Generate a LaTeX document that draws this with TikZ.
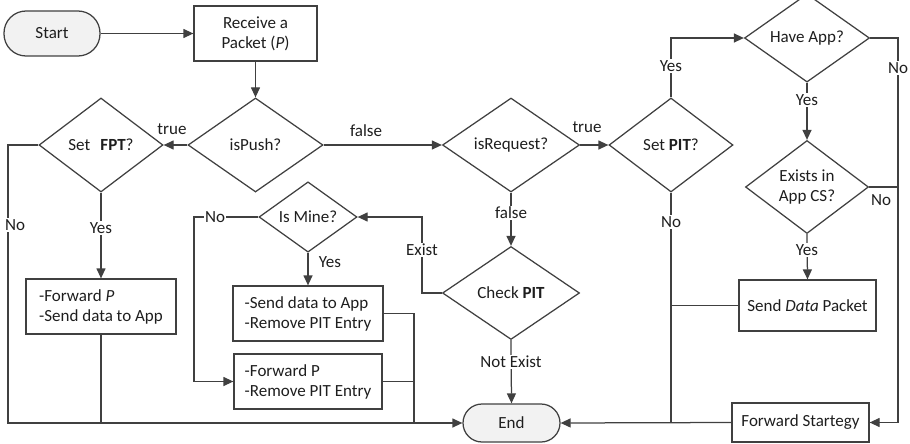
\documentclass[tikz,border=0pt]{standalone}
\usepackage{fontspec}
\setmainfont{Carlito}
\usetikzlibrary{shapes.geometric,arrows.meta}
\definecolor{ln}{HTML}{404040}
\definecolor{tx}{HTML}{1E1E1E}
\definecolor{termfill}{HTML}{F2F2F2}
\tikzset{
  base/.style={draw=ln, line width=1.25pt, text=tx, inner sep=0pt,
    font=\fontsize{17}{20}\selectfont},
  term/.style={base, rectangle, fill=termfill},
  proc/.style={base, rectangle, align=center},
  listbox/.style={base, rectangle, align=left},
  dec/.style={base, diamond, align=center},
  flow/.style={draw=ln, line width=1.25pt, -{Triangle[length=10pt,width=9pt]}},
  link/.style={draw=ln, line width=1.25pt},
  lbl/.style={fill=white, text=tx, inner sep=1.5pt, font=\fontsize{17}{20}\selectfont},
  plain/.style={text=tx, inner sep=1pt, font=\fontsize{17}{20}\selectfont}
}
\begin{document}
\begin{tikzpicture}[x=1pt, y=-1pt]
\useasboundingbox (0,0) rectangle (910,444);

% terminals
\node[term, rounded corners=22pt, minimum width=96pt, minimum height=45pt] (start) at (52,33.5) {Start};
\node[term, rounded corners=19pt, minimum width=97pt, minimum height=38pt] (end) at (511.5,423) {End};

% process boxes
\node[proc, minimum width=123pt, minimum height=55pt] (recv) at (255.5,33.5) {Receive a\\Packet (\textit{P})};
\node[listbox, minimum width=150pt, minimum height=55pt] (fwdsd) at (101,306.5) {-Forward \textit{P}\\-Send data to App};
\node[listbox, minimum width=150pt, minimum height=55pt] (sdapp) at (308,313.5) {-Send data to App\\-Remove PIT Entry};
\node[listbox, minimum width=148pt, minimum height=55pt] (fwdp) at (308,381.5) {-Forward P\\-Remove PIT Entry};
\node[proc, minimum width=137pt, minimum height=51pt] (send) at (807.5,305.5) {Send \textit{Data} Packet};
\node[proc, minimum width=137pt, minimum height=39pt] (fwd) at (800.5,422.5) {Forward Startegy};

% decisions
\node[dec, minimum width=135pt, minimum height=94pt] (push) at (255.5,145) {isPush?};
\node[dec, minimum width=124pt, minimum height=94pt] (fpt) at (101,145) {Set\hspace{0.6em}\textbf{FPT}?};
\node[dec, minimum width=137pt, minimum height=94pt] (req) at (511,145) {isRequest?};
\node[dec, minimum width=124pt, minimum height=94pt] (pit) at (671,145) {Set \textbf{PIT}?};
\node[dec, minimum width=125pt, minimum height=65pt] (app) at (807,38) {Have App?};
\node[dec, minimum width=123pt, minimum height=93pt] (exists) at (807,187) {Exists in\\App CS?};
\node[dec, minimum width=137pt, minimum height=93pt] (chk) at (511,293) {Check \textbf{PIT}};
\node[dec, minimum width=98pt, minimum height=70pt] (mine) at (308,217) {Is Mine?};

% routing points
\coordinate (fptL) at (8,145);
\coordinate (fptB) at (8,423);
\coordinate (fwdsdB) at (101,423);
\coordinate (mineL) at (194,217);
\coordinate (mineB) at (194,381.5);
\coordinate (chkL) at (422,293);
\coordinate (chkT) at (422,217);
\coordinate (busA) at (414,313.5);
\coordinate (busB) at (414,381.5);
\coordinate (busC) at (414,423);
\coordinate (pitT) at (671,38);
\coordinate (pitB) at (671,423);
\coordinate (sendL) at (671,305.5);
\coordinate (appR) at (898,38);
\coordinate (appB) at (898,187);
\coordinate (appF) at (898,422.5);

% connectors
\draw[flow] (start) -- (recv);
\draw[flow] (recv) -- (push);
\draw[flow] (push.west) -- (fpt.east);
\draw[flow] (push.east) -- (req.west);
\draw[flow] (req.east) -- (pit.west);
\draw[flow] (pit.north) -- (pitT) -- (app.west);
\draw[flow] (app.east) -- (appR) -- (appF) -- (fwd.east);
\draw[flow] (app.south) -- (exists.north);
\draw[link] (exists.east) -- (appB);
\draw[flow] (exists.south) -- (send.north);
\draw[link] (pit.south) -- (pitB);
\draw[link] (send.west) -- (sendL);
\draw[flow] (fwd.west) -- (end.east);
\draw[flow] (req.south) -- (chk.north);
\draw[flow] (chk.south) -- (end.north);
\draw[flow] (chk.west) -- (chkL) -- (chkT) -- (mine.east);
\draw[flow] (mine.west) -- (mineL) -- (mineB) -- (fwdp.west);
\draw[flow] (mine.south) -- (sdapp.north);
\draw[link] (sdapp.east) -- (busA) -- (busC);
\draw[link] (fwdp.east) -- (busB);
\draw[flow] (fpt.west) -- (fptL) -- (fptB) -- (end.west);
\draw[flow] (fpt.south) -- (fwdsd.north);
\draw[link] (fwdsd.south) -- (fwdsdB);

% connector labels
\node[plain] (tTrue1) at (172,129) {true};
\node[plain] (tFalse1) at (366,131) {false};
\node[plain] (tTrue2) at (587,127) {true};
\node[lbl] (tYesPit) at (671,66) {Yes};
\node[lbl] (tNoApp) at (898,68) {No};
\node[lbl] (tYesApp) at (807,100) {Yes};
\node[plain] (tNoEx) at (881,200) {No};
\node[lbl] (tYesEx) at (807,250) {Yes};
\node[lbl] (tNoPit) at (671,222) {No};
\node[lbl] (tFalse2) at (511,213) {false};
\node[lbl] (tNotEx) at (511,362) {Not Exist};
\node[lbl] (tExist) at (422,250) {Exist};
\node[lbl] (tNoMine) at (215,217) {No};
\node[plain] (tYesMine) at (330,262) {Yes};
\node[lbl] (tNoFpt) at (15,225) {No};
\node[lbl] (tYesFpt) at (101,228) {Yes};
\end{tikzpicture}
\end{document}
